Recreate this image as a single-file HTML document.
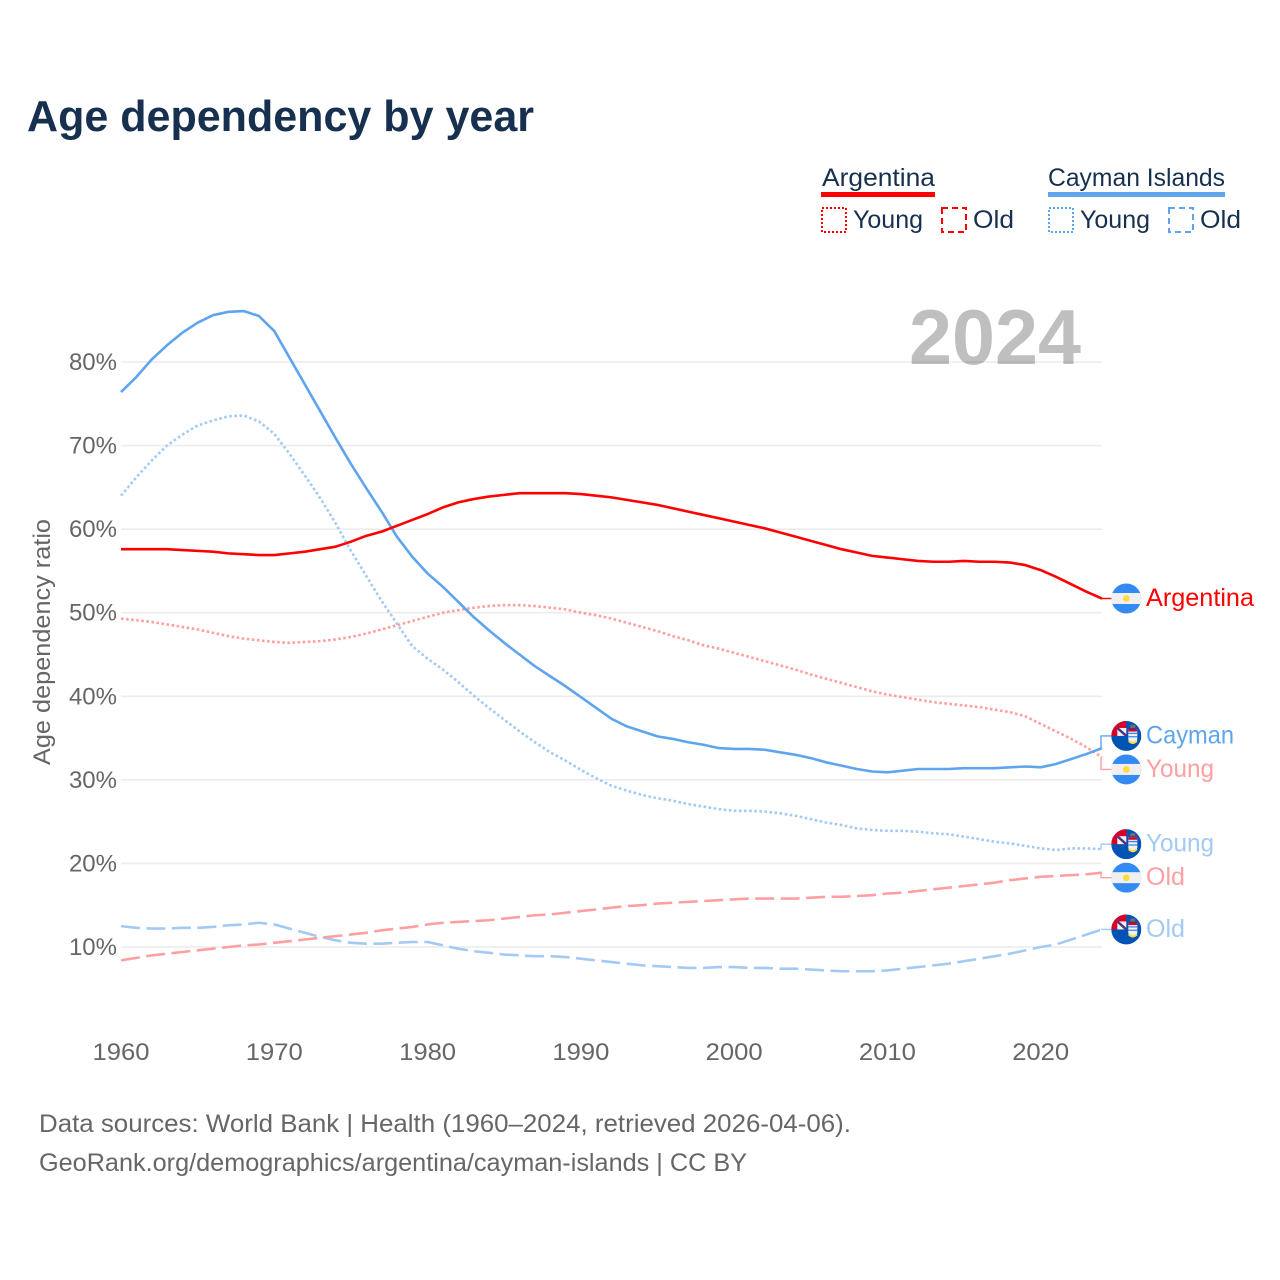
<!DOCTYPE html>
<html lang="en">
<head>
<meta charset="utf-8">
<title>Age dependency by year</title>
<style>
html,body{margin:0;padding:0;background:#fff;}
svg{display:block;font-family:"Liberation Sans",Arial,sans-serif;}
.tick{fill:#666;font-size:24px;}
.leg{fill:#17304f;font-size:25px;}
.src{fill:#666;font-size:25px;}
</style>
</head>
<body>
<svg id="chart" width="1280" height="1280" viewBox="0 0 1280 1280" xmlns="http://www.w3.org/2000/svg">
  <defs>
    <clipPath id="flag-clip"><circle cx="0" cy="0" r="15"/></clipPath>
    <symbol id="flag-ar" overflow="visible">
      <g clip-path="url(#flag-clip)">
        <rect x="-15" y="-15" width="30" height="30" fill="#338af3"/>
        <rect x="-15" y="-5.5" width="30" height="11" fill="#f0f0f0"/>
        <circle cx="0" cy="0" r="3.4" fill="#ffda44"/>
      </g>
    </symbol>
    <symbol id="flag-ky" overflow="visible">
      <g clip-path="url(#flag-clip)">
        <rect x="-15" y="-15" width="30" height="30" fill="#0052b4"/>
        <rect x="-15" y="-15" width="15" height="15" fill="#d80027"/>
        <rect x="-9" y="-8" width="9" height="8" fill="#f0f0f0"/>
        <path d="M-9-8L0 0" stroke="#0052b4" stroke-width="2.4"/>
        <path d="M-9-8L0 0" stroke="#d80027" stroke-width="0.9"/>
        <path d="M2-7H11V3Q11 7 6.5 7Q2 7 2 3Z" fill="#f0f0f0"/>
        <rect x="2" y="-7" width="9" height="2.6" fill="#d80027"/>
        <path d="M2-2.6h9M2 0.8h9" stroke="#338af3" stroke-width="1.3"/>
        <path d="M2.5 5q4 4 8 0" stroke="#ffda44" stroke-width="2" fill="none"/>
        <rect x="4" y="-11" width="5" height="3" fill="#6e6e6e"/>
      </g>
    </symbol>
  </defs>

  <text x="27" y="131" font-size="44" font-weight="700" fill="#17304f" textLength="507" lengthAdjust="spacingAndGlyphs">Age dependency by year</text>

  <g>
    <g>
      <text class="leg" x="822" y="186" textLength="113" lengthAdjust="spacingAndGlyphs">Argentina</text>
      <rect x="821" y="192" width="114" height="5" fill="#ff0000"/>
      <rect x="822" y="208" width="24" height="24" fill="none" stroke="#ff0000" stroke-width="2" stroke-dasharray="2 2"/>
      <text class="leg" x="853" y="228" textLength="70" lengthAdjust="spacingAndGlyphs">Young</text>
      <rect x="942" y="208" width="24" height="24" fill="none" stroke="#ff0000" stroke-width="2" stroke-dasharray="6 4"/>
      <text class="leg" x="973" y="228" textLength="41" lengthAdjust="spacingAndGlyphs">Old</text>
    </g>
    <g>
      <text class="leg" x="1048" y="186" textLength="177" lengthAdjust="spacingAndGlyphs">Cayman Islands</text>
      <rect x="1048" y="192" width="177" height="5" fill="#5ea5ee"/>
      <rect x="1049" y="208" width="24" height="24" fill="none" stroke="#5ea5ee" stroke-width="2" stroke-dasharray="2 2"/>
      <text class="leg" x="1080" y="228" textLength="70" lengthAdjust="spacingAndGlyphs">Young</text>
      <rect x="1169" y="208" width="24" height="24" fill="none" stroke="#5ea5ee" stroke-width="2" stroke-dasharray="6 4"/>
      <text class="leg" x="1200" y="228" textLength="41" lengthAdjust="spacingAndGlyphs">Old</text>
    </g>
  </g>

  <g id="grid"></g>
  <text x="909" y="364" font-size="78" font-weight="700" fill="#000" fill-opacity="0.25" textLength="172" lengthAdjust="spacingAndGlyphs">2024</text>
  <g id="yticks"></g>
  <g id="xticks"></g>
  <text transform="translate(50 642) rotate(-90)" text-anchor="middle" font-size="24" fill="#666" textLength="246" lengthAdjust="spacingAndGlyphs">Age dependency ratio</text>
  <g id="series"></g>
  <g id="end-labels"></g>

  <text class="src" x="39" y="1132" textLength="812" lengthAdjust="spacingAndGlyphs">Data sources: World Bank | Health (1960–2024, retrieved 2026-04-06).</text>
  <text class="src" x="39" y="1171" textLength="708" lengthAdjust="spacingAndGlyphs">GeoRank.org/demographics/argentina/cayman-islands | CC BY</text>
</svg>

<script>
const years = [1960,1961,1962,1963,1964,1965,1966,1967,1968,1969,1970,1971,1972,1973,1974,1975,1976,1977,1978,1979,1980,1981,1982,1983,1984,1985,1986,1987,1988,1989,1990,1991,1992,1993,1994,1995,1996,1997,1998,1999,2000,2001,2002,2003,2004,2005,2006,2007,2008,2009,2010,2011,2012,2013,2014,2015,2016,2017,2018,2019,2020,2021,2022,2023,2024];
const argentinaTotal = [57.6,57.6,57.6,57.6,57.5,57.4,57.3,57.1,57.0,56.9,56.9,57.1,57.3,57.6,57.9,58.5,59.2,59.7,60.4,61.1,61.8,62.6,63.2,63.6,63.9,64.1,64.3,64.3,64.3,64.3,64.2,64.0,63.8,63.5,63.2,62.9,62.5,62.1,61.7,61.3,60.9,60.5,60.1,59.6,59.1,58.6,58.1,57.6,57.2,56.8,56.6,56.4,56.2,56.1,56.1,56.2,56.1,56.1,56.0,55.7,55.1,54.3,53.4,52.5,51.7];
const caymanTotal = [76.4,78.2,80.3,82.0,83.5,84.7,85.6,86.0,86.1,85.5,83.7,80.5,77.3,74.1,70.9,67.8,64.9,62.1,59.1,56.7,54.7,53.1,51.3,49.5,47.9,46.4,45.0,43.6,42.4,41.2,39.9,38.6,37.3,36.4,35.8,35.2,34.9,34.5,34.2,33.8,33.7,33.7,33.6,33.3,33.0,32.6,32.1,31.7,31.3,31.0,30.9,31.1,31.3,31.3,31.3,31.4,31.4,31.4,31.5,31.6,31.5,31.9,32.5,33.1,33.8];
const argentinaYoung = [49.3,49.1,48.9,48.6,48.3,48.0,47.6,47.2,46.9,46.7,46.5,46.4,46.5,46.6,46.8,47.1,47.5,48.0,48.5,49.0,49.5,50.0,50.3,50.6,50.8,50.9,50.9,50.8,50.6,50.4,50.0,49.7,49.3,48.8,48.3,47.8,47.2,46.7,46.1,45.7,45.2,44.7,44.2,43.7,43.2,42.6,42.1,41.6,41.1,40.6,40.2,39.9,39.6,39.3,39.1,38.9,38.7,38.4,38.1,37.6,36.7,35.8,34.9,33.9,32.7];
const caymanYoung = [64.0,66.2,68.2,70.0,71.3,72.4,73.0,73.5,73.6,72.9,71.4,69.0,66.4,63.7,60.7,57.4,54.4,51.4,48.7,46.0,44.5,43.2,41.7,40.1,38.6,37.2,35.8,34.5,33.3,32.3,31.2,30.2,29.3,28.7,28.2,27.8,27.5,27.1,26.8,26.5,26.3,26.3,26.2,26.0,25.7,25.3,24.9,24.6,24.2,24.0,23.9,23.9,23.8,23.6,23.5,23.2,22.9,22.6,22.4,22.1,21.8,21.6,21.8,21.8,21.7];
const argentinaOld = [8.4,8.7,9.0,9.2,9.4,9.6,9.8,10.0,10.2,10.3,10.5,10.7,10.9,11.1,11.3,11.5,11.7,12.0,12.2,12.4,12.7,12.9,13.0,13.1,13.2,13.4,13.6,13.8,13.9,14.1,14.3,14.5,14.7,14.9,15.0,15.2,15.3,15.4,15.5,15.6,15.7,15.8,15.8,15.8,15.8,15.9,16.0,16.0,16.1,16.2,16.4,16.5,16.7,16.9,17.1,17.3,17.5,17.7,18.0,18.2,18.4,18.5,18.6,18.7,18.9];
const caymanOld = [12.5,12.3,12.2,12.2,12.3,12.3,12.4,12.6,12.7,12.9,12.7,12.2,11.7,11.2,10.8,10.5,10.4,10.4,10.5,10.6,10.6,10.2,9.8,9.5,9.3,9.1,9.0,8.9,8.9,8.8,8.6,8.4,8.2,8.0,7.8,7.7,7.6,7.5,7.5,7.6,7.6,7.5,7.5,7.4,7.4,7.3,7.2,7.1,7.1,7.1,7.2,7.4,7.6,7.8,8.0,8.3,8.6,8.9,9.2,9.6,10.0,10.3,10.9,11.5,12.1];
const yTickValues = [10,20,30,40,50,60,70,80];
const xTickValues = [1960,1970,1980,1990,2000,2010,2020];

const NS = 'http://www.w3.org/2000/svg';
function xScale(year){ return 121 + (year - years[0]) * (1102 - 121) / (years[years.length - 1] - years[0]); }
function yScale(v){ return 947 - (v - 10) * (947 - 362) / 70; }
function mk(tag, parent, attrs){
  const el = document.createElementNS(NS, tag);
  for (const k in attrs) el.setAttribute(k, attrs[k]);
  parent.appendChild(el);
  return el;
}

const gridG = document.getElementById('grid');
const yG = document.getElementById('yticks');
yTickValues.forEach(function(v){
  const line = mk('line', gridG, {x1:121, x2:1102, y1:yScale(v), y2:yScale(v), stroke:'#ececec', 'stroke-width':1.6});
  
  
  const t = mk('text', yG, {x:117, y:yScale(v) + 8, 'text-anchor':'end', 'class':'tick'});
  
  
  t.textContent = v + '%';
});

const xG = document.getElementById('xticks');
xTickValues.forEach(function(yr){
  const t = mk('text', xG, {x:xScale(yr), y:1060, 'text-anchor':'middle', 'class':'tick', textLength:57, lengthAdjust:'spacingAndGlyphs'});
  
  
  t.textContent = yr;
});

const RED = '#ff0000', BLUE = '#5ea5ee', LRED = '#ff9fa1', LBLUE = '#a3caf5';
const DOT = '2.6 2.5', DASH = '19 6.5';
const LABEL_WIDTH = {Argentina:108, Cayman:88, Young:68, Old:39};
const seriesDefs = [
  {id:'cayman-old', values:caymanOld, color:LBLUE, dash:DASH, label:'Old', flag:'flag-ky'},
  {id:'argentina-old', values:argentinaOld, color:LRED, dash:DASH, label:'Old', flag:'flag-ar'},
  {id:'cayman-young', values:caymanYoung, color:LBLUE, dash:DOT, label:'Young', flag:'flag-ky'},
  {id:'argentina-young', values:argentinaYoung, color:LRED, dash:DOT, label:'Young', flag:'flag-ar'},
  {id:'cayman-total', values:caymanTotal, color:BLUE, dash:null, label:'Cayman', flag:'flag-ky'},
  {id:'argentina-total', values:argentinaTotal, color:RED, dash:null, label:'Argentina', flag:'flag-ar'}
];

const seriesG = document.getElementById('series');
seriesDefs.forEach(function(s){
  const d = s.values.map(function(v, i){ return (i ? 'L' : 'M') + xScale(years[i]).toFixed(2) + ' ' + yScale(v).toFixed(2); }).join('');
  const attrs = {d:d, fill:'none', stroke:s.color, 'stroke-width':2.6, 'stroke-linejoin':'round'};
  if (s.dash) attrs['stroke-dasharray'] = s.dash;
  const p = mk('path', seriesG, attrs);
  
  
});

/* End-label placement: labels follow the last value, pushed apart to avoid overlap. */
const GAP = 33.5;
const items = seriesDefs.map(function(s){
  return {s:s, target:yScale(s.values[s.values.length - 1])};
}).sort(function(a, b){ return a.target - b.target; });
let clusters = items.map(function(it){ return {members:[it], center:it.target}; });
let merged = true;
while (merged) {
  merged = false;
  for (let i = 0; i < clusters.length - 1; i++) {
    const a = clusters[i], b = clusters[i + 1];
    const aEnd = a.center + (a.members.length - 1) * GAP / 2;
    const bStart = b.center - (b.members.length - 1) * GAP / 2;
    if (bStart - aEnd < GAP) {
      const all = a.members.concat(b.members);
      const c = all.reduce(function(sum, m){ return sum + m.target; }, 0) / all.length;
      clusters.splice(i, 2, {members:all, center:c});
      merged = true;
      break;
    }
  }
}
clusters.forEach(function(c){
  c.members.forEach(function(m, i){ m.y = c.center + (i - (c.members.length - 1) / 2) * GAP; });
});

const labelsG = document.getElementById('end-labels');
items.forEach(function(it){
  const s = it.s;
  const conn = mk('path', labelsG, {d:'M1101 ' + it.target.toFixed(2) + 'V' + it.y.toFixed(2) + 'H1113', fill:'none', stroke:s.color, 'stroke-width':1.4});
  
  
  const flag = mk('use', labelsG, {href:'#' + s.flag, x:1126.3, y:it.y});
  
  
  const t = mk('text', labelsG, {x:1146, y:it.y + 7.5, fill:s.color, 'font-size':25, textLength:LABEL_WIDTH[s.label], lengthAdjust:'spacingAndGlyphs'});
  
  
  t.textContent = s.label;
});
</script>
</body>
</html>
